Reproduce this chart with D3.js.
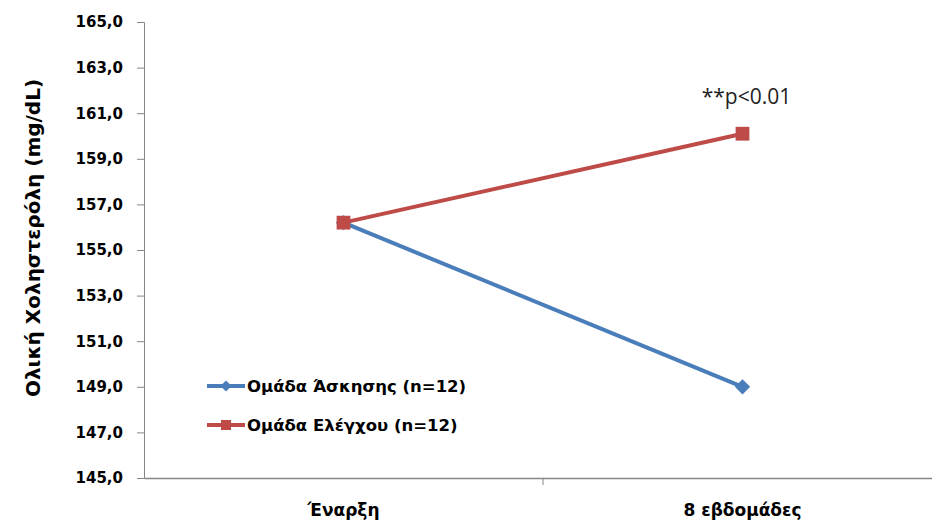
<!DOCTYPE html>
<html>
<head>
<meta charset="utf-8">
<script src="https://cdn.jsdelivr.net/npm/d3@7"></script>
<style>
  html, body { margin: 0; padding: 0; background: #fff; }
  svg { display: block; }
</style>
</head>
<body>
<svg id="chart" width="932" height="520"></svg>
<script>
const categories = ["Έναρξη", "8 εβδομάδες"];
const exerciseValues = [156.2, 149.0];
const controlValues = [156.2, 160.1];
const seriesNames = ["Ομάδα Άσκησης (n=12)", "Ομάδα Ελέγχου (n=12)"];
const yTicks = [145, 147, 149, 151, 153, 155, 157, 159, 161, 163, 165];
const yTitle = "Ολική  Χοληστερόλη (mg/dL)";
const annotation = "**p<0.01";

const svg = d3.select("#chart");
const fontB = "'DejaVu Sans', sans-serif";

const x = d3.scaleBand().domain(categories).range([144, 942]).paddingInner(0).paddingOuter(0);
const y = d3.scaleLinear().domain([145, 165]).range([478, 22]);
const cx = d => x(d) + x.bandwidth() / 2;

const axisColor = "#868686";

// Y axis
const yAxis = svg.append("g").attr("transform", "translate(144,0)")
  .call(d3.axisLeft(y).tickValues(yTicks).tickSize(7).tickPadding(14)
    .tickFormat(d => d3.format(".1f")(d).replace(".", ",")));
yAxis.select(".domain").attr("stroke", axisColor).attr("stroke-width", 1);
yAxis.selectAll(".tick line").attr("stroke", axisColor);
yAxis.selectAll(".tick text").attr("font-family", fontB).attr("font-weight", "bold")
  .attr("font-size", 15).attr("fill", "#000");

// X axis
const xAxis = svg.append("g").attr("transform", "translate(0,478)")
  .call(d3.axisBottom(x).tickSize(0).tickPadding(26));
xAxis.select(".domain").attr("stroke", axisColor).attr("stroke-width", 1.5);
xAxis.selectAll(".tick text").attr("font-family", fontB).attr("font-weight", "bold")
  .attr("font-size", 17).attr("fill", "#000");
// tick marks at category boundaries
svg.append("g").selectAll("line").data(categories.slice(1)).join("line")
  .attr("x1", d => x(d)).attr("x2", d => x(d))
  .attr("y1", 478).attr("y2", 485).attr("stroke", axisColor);

// Y title
svg.append("text")
  .attr("transform", `translate(40,238) rotate(-90)`)
  .attr("text-anchor", "middle")
  .attr("font-family", fontB).attr("font-weight", "bold").attr("font-size", 20)
  .text(yTitle);

const blue = "#4A7EBB", red = "#BE4B48";
const line = d3.line().x((d, i) => cx(categories[i])).y(d => y(d));

// Exercise (blue)
svg.append("path").datum(exerciseValues).attr("d", line)
  .attr("fill", "none").attr("stroke", blue).attr("stroke-width", 4);
// Control (red)
svg.append("path").datum(controlValues).attr("d", line)
  .attr("fill", "none").attr("stroke", red).attr("stroke-width", 4);

const diamond = d3.symbol().type(d3.symbolDiamond2).size(150);
const square = d3.symbol().type(d3.symbolSquare).size(190);

svg.append("g").selectAll("path").data(exerciseValues).join("path")
  .attr("d", diamond)
  .attr("transform", (d, i) => `translate(${cx(categories[i])},${y(d)})`)
  .attr("fill", blue);
svg.append("g").selectAll("path").data(controlValues).join("path")
  .attr("d", square)
  .attr("transform", (d, i) => `translate(${cx(categories[i])},${y(d)})`)
  .attr("fill", red);

// Annotation
svg.append("text")
  .attr("x", cx(categories[1]) + 4).attr("y", 104)
  .attr("text-anchor", "middle")
  .attr("font-family", "'Open Sans', 'DejaVu Sans', sans-serif").attr("font-size", 21)
  .attr("fill", "#222")
  .text(annotation);

// Legend
const legendItems = [
  { name: seriesNames[0], color: blue, sq: false, y: 386 },
  { name: seriesNames[1], color: red, sq: true, y: 425 }
];
const lg = svg.append("g");
legendItems.forEach(it => {
  lg.append("line").attr("x1", 207).attr("x2", 245).attr("y1", it.y).attr("y2", it.y)
    .attr("stroke", it.color).attr("stroke-width", 4);
  lg.append("path").attr("d", it.sq ? d3.symbol().type(d3.symbolSquare).size(100)() : d3.symbol().type(d3.symbolDiamond2).size(80)())
    .attr("transform", `translate(226,${it.y})`).attr("fill", it.color);
  lg.append("text").attr("x", 247).attr("y", it.y + 6)
    .attr("font-family", fontB).attr("font-weight", "bold").attr("font-size", 16.5)
    .attr("fill", "#000").text(it.name);
});
</script>
</body>
</html>
